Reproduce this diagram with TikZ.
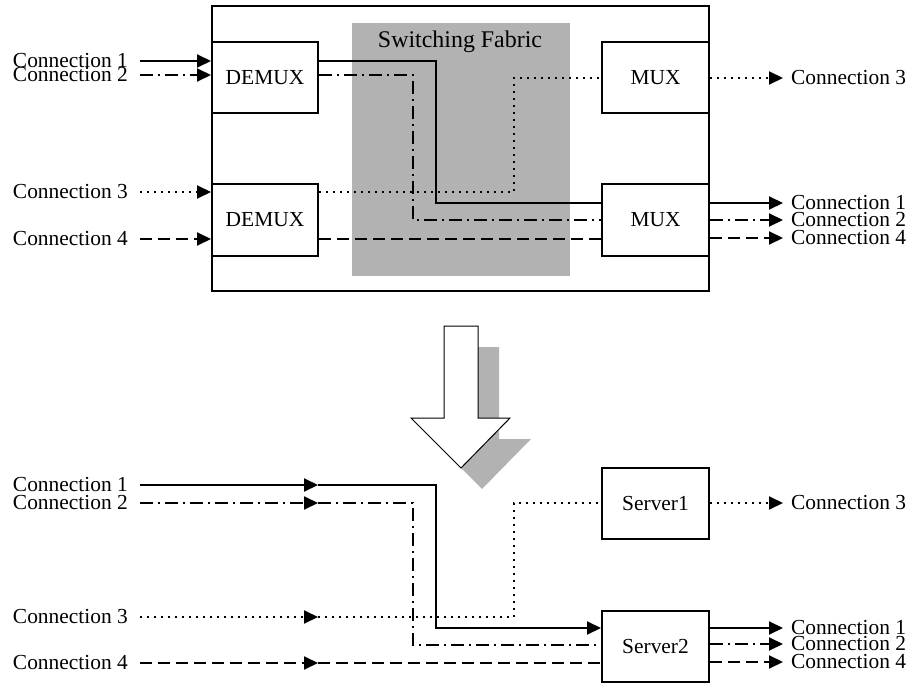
\documentclass[tikz,border=0pt]{standalone}
\usepackage{fontspec}
\setmainfont{Liberation Serif}
\usetikzlibrary{arrows.meta}
\begin{document}
\begin{tikzpicture}[x=1bp,y=-1bp,
  every node/.style={font=\fontsize{21.5}{22}\selectfont},
  box/.style={draw,line width=2bp,minimum width=107bp,minimum height=71bp,inner sep=0pt},
  llbl/.style={anchor=east,inner ysep=0pt,inner xsep=12bp},
  rlbl/.style={anchor=west,inner ysep=0pt,inner xsep=8bp},
  ln/.style={line width=2bp},
  solidc/.style={ln},
  dashdotc/.style={ln,dash pattern=on 13bp off 5bp on 2bp off 5bp},
  dotc/.style={ln,dash pattern=on 2bp off 5bp},
  dashc/.style={ln,dash pattern=on 12bp off 6bp},
  arr/.style={-{Triangle[length=14bp,width=13bp]}},
  shade/.style={fill=black!30,draw=none},
]
\useasboundingbox (0,0) rectangle (914,684);

% ---------------- top: switch ----------------
\node[shade,minimum width=218bp,minimum height=253bp,inner sep=0pt] (fabric) at (461,149.5) {};
\node[font=\fontsize{24}{24}\selectfont] (fabtxt) at (460,42) {Switching Fabric};
\node[draw,line width=2bp,minimum width=497bp,minimum height=284bp,inner sep=0pt] (switch) at (460.5,148.5) {};

\node[box,minimum width=106bp] (d1) at (265,78) {DEMUX};
\node[box,minimum width=106bp] (d2) at (265,220) {DEMUX};
\node[box] (m1) at (655.5,78) {MUX};
\node[box] (m2) at (655.5,220) {MUX};

\node[llbl] (i1) at (140,61) {Connection 1};
\node[llbl] (i2) at (140,75) {Connection 2};
\node[llbl] (i3) at (140,192) {Connection 3};
\node[llbl] (i4) at (140,239) {Connection 4};

\node[rlbl] (o3) at (783,78) {Connection 3};
\node[rlbl] (o1) at (783,203) {Connection 1};
\node[rlbl] (o2) at (783,220) {Connection 2};
\node[rlbl] (o4) at (783,238) {Connection 4};

\coordinate (a1) at (436,61);
\coordinate (b1) at (436,203);
\coordinate (a2) at (413,75);
\coordinate (b2) at (413,220);
\coordinate (a3) at (514,192);
\coordinate (b3) at (514,78);

\draw[solidc,arr] (i1.east) -- (d1.west |- i1.east);
\draw[dashdotc,arr] (i2.east) -- (d1.west |- i2.east);
\draw[dotc,arr] (i3.east) -- (d2.west |- i3.east);
\draw[dashc,arr] (i4.east) -- (d2.west |- i4.east);

\draw[solidc] (d1.east |- a1) -- (a1) -- (b1) -- (m2.west |- b1);
\draw[dashdotc] (d1.east |- a2) -- (a2) -- (b2) -- (m2.west |- b2);
\draw[dotc] (d2.east |- a3) -- (a3) -- (b3) -- (m1.west |- b3);
\draw[dashc] (d2.east |- i4.east) -- (m2.west |- i4.east);

\draw[dotc,arr] (m1.east |- o3.west) -- (o3.west);
\draw[solidc,arr] (m2.east |- o1.west) -- (o1.west);
\draw[dashdotc,arr] (m2.east |- o2.west) -- (o2.west);
\draw[dashc,arr] (m2.east |- o4.west) -- (o4.west);

% ---------------- big arrow ----------------
\begin{scope}[shift={(21,21)}]
  \fill[black!30] (444,326) -- (478,326) -- (478,418) -- (510,418) -- (461,468) -- (411,418) -- (444,418) -- cycle;
\end{scope}
\draw[fill=white,line width=1bp] (444,326) -- (478,326) -- (478,418) -- (510,418) -- (461,468) -- (411,418) -- (444,418) -- cycle;

% ---------------- bottom: servers ----------------
\node[box] (s1) at (655.5,503.5) {Server1};
\node[box] (s2) at (655.5,646.5) {Server2};

\node[llbl] (j1) at (140,485) {Connection 1};
\node[llbl] (j2) at (140,503) {Connection 2};
\node[llbl] (j3) at (140,617) {Connection 3};
\node[llbl] (j4) at (140,663) {Connection 4};

\node[rlbl] (q3) at (783,503) {Connection 3};
\node[rlbl] (q1) at (783,628) {Connection 1};
\node[rlbl] (q2) at (783,644) {Connection 2};
\node[rlbl] (q4) at (783,662) {Connection 4};

\coordinate (p1) at (318,485);
\coordinate (p2) at (318,503);
\coordinate (p3) at (318,617);
\coordinate (p4) at (318,663);
\coordinate (e1) at (436,485);
\coordinate (f1) at (436,628);
\coordinate (e2) at (413,503);
\coordinate (f2) at (413,645);
\coordinate (e3) at (514,617);
\coordinate (f3) at (514,503);

\draw[solidc,arr] (j1.east) -- (p1);
\draw[dashdotc,arr] (j2.east) -- (p2);
\draw[dotc,arr] (j3.east) -- (p3);
\draw[dashc,arr] (j4.east) -- (p4);

\draw[solidc,arr] (p1) -- (e1) -- (f1) -- (s2.west |- f1);
\draw[dashdotc] (p2) -- (e2) -- (f2) -- (s2.west |- f2);
\draw[dotc] (p3) -- (e3) -- (f3) -- (s1.west |- f3);
\draw[dashc] (p4) -- (s2.west |- p4);

\draw[dotc,arr] (s1.east |- q3.west) -- (q3.west);
\draw[solidc,arr] (s2.east |- q1.west) -- (q1.west);
\draw[dashdotc,arr] (s2.east |- q2.west) -- (q2.west);
\draw[dashc,arr] (s2.east |- q4.west) -- (q4.west);
\end{tikzpicture}
\end{document}
